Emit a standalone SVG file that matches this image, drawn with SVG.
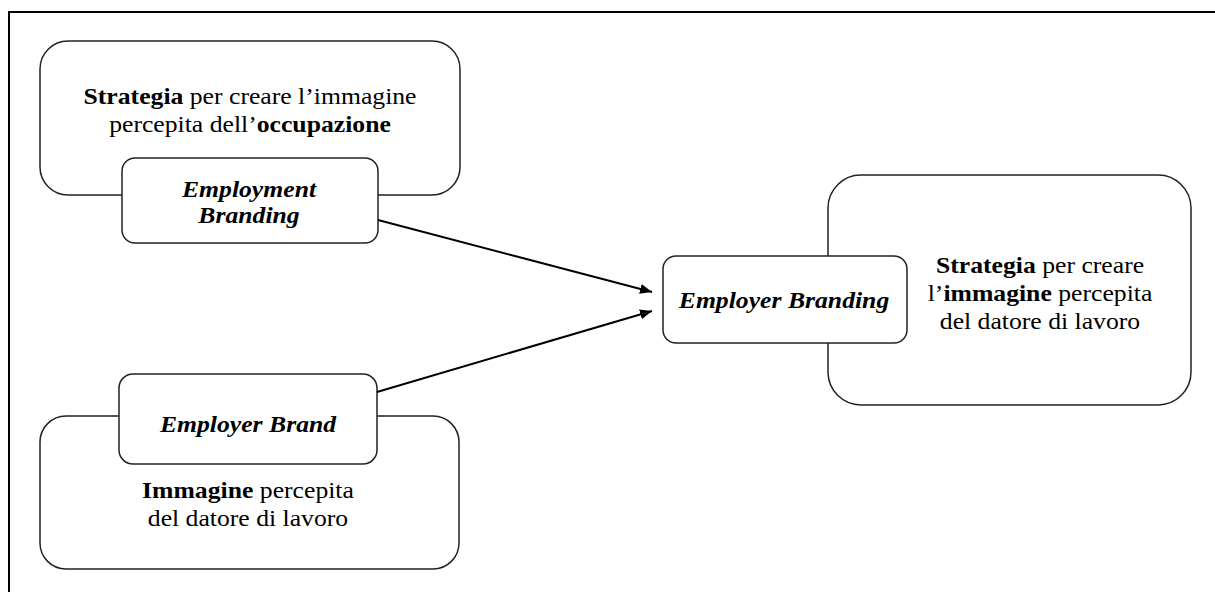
<svg xmlns="http://www.w3.org/2000/svg" width="1215" height="592" viewBox="0 0 1215 592">
  <style>
    .frame { fill: none; stroke: #000; stroke-width: 2; }
    .box { fill: #fff; stroke: #222; stroke-width: 1.5; }
    text { font-family: 'Liberation Serif', Tinos, 'Times New Roman', Times, 'Nimbus Roman', 'Nimbus Roman No9 L', FreeSerif, 'Noto Serif', 'DejaVu Serif', serif; font-size: 23px; fill: #000; text-anchor: middle; }
    .b { font-weight: bold; }
    .bi { font-weight: bold; font-style: italic; }
    .link { fill: none; stroke: #000; stroke-width: 2; }
  </style>
  <defs>
    <marker id="arrow" viewBox="0 0 12 10" refX="12" refY="5" markerWidth="12" markerHeight="10" markerUnits="userSpaceOnUse" orient="auto">
      <path d="M0,0 L12,5 L0,10 z" fill="#000"/>
    </marker>
  </defs>

  <rect class="frame" x="9" y="12" width="1230" height="600"/>

  <!-- Employment branding: strategy for the occupation image -->
  <g id="employment-branding">
    <rect class="box" x="40" y="41" width="420" height="154" rx="28" ry="28"/>
    <g transform="matrix(1.117 0 0 1 250 0)">
      <text x="0" y="104"><tspan class="b">Strategia</tspan> per creare l’immagine</text>
      <text x="0" y="132">percepita dell’<tspan class="b">occupazione</tspan></text>
    </g>
    <rect class="box" x="122" y="158" width="256" height="85" rx="13" ry="13"/>
    <g transform="matrix(1.117 0 0 1 249 0)">
      <text class="bi" x="0" y="197">Employment</text>
      <text class="bi" x="0" y="223">Branding</text>
    </g>
  </g>

  <!-- Employer brand: perceived image of the employer -->
  <g id="employer-brand">
    <rect class="box" x="40" y="416" width="419" height="153" rx="26" ry="26"/>
    <rect class="box" x="119" y="374" width="258" height="90" rx="14" ry="14"/>
    <g transform="matrix(1.117 0 0 1 248 0)">
      <text class="bi" x="0" y="432">Employer Brand</text>
      <text x="0" y="498"><tspan class="b">Immagine</tspan> percepita</text>
      <text x="0" y="526">del datore di lavoro</text>
    </g>
  </g>

  <!-- Employer branding: strategy for the employer image -->
  <g id="employer-branding">
    <rect class="box" x="828" y="175" width="363" height="230" rx="33" ry="33"/>
    <g transform="matrix(1.117 0 0 1 1040 0)">
      <text x="0" y="273"><tspan class="b">Strategia</tspan> per creare</text>
      <text x="0" y="301">l’<tspan class="b">immagine</tspan> percepita</text>
      <text x="0" y="329">del datore di lavoro</text>
    </g>
    <rect class="box" x="663" y="256" width="244" height="87" rx="13" ry="13"/>
    <g transform="matrix(1.117 0 0 1 784 0)">
      <text class="bi" x="0" y="308">Employer Branding</text>
    </g>
  </g>

  <g id="connectors">
    <line class="link" x1="378" y1="220" x2="652" y2="292" marker-end="url(#arrow)"/>
    <line class="link" x1="377" y1="392" x2="652" y2="311" marker-end="url(#arrow)"/>
  </g>
</svg>
